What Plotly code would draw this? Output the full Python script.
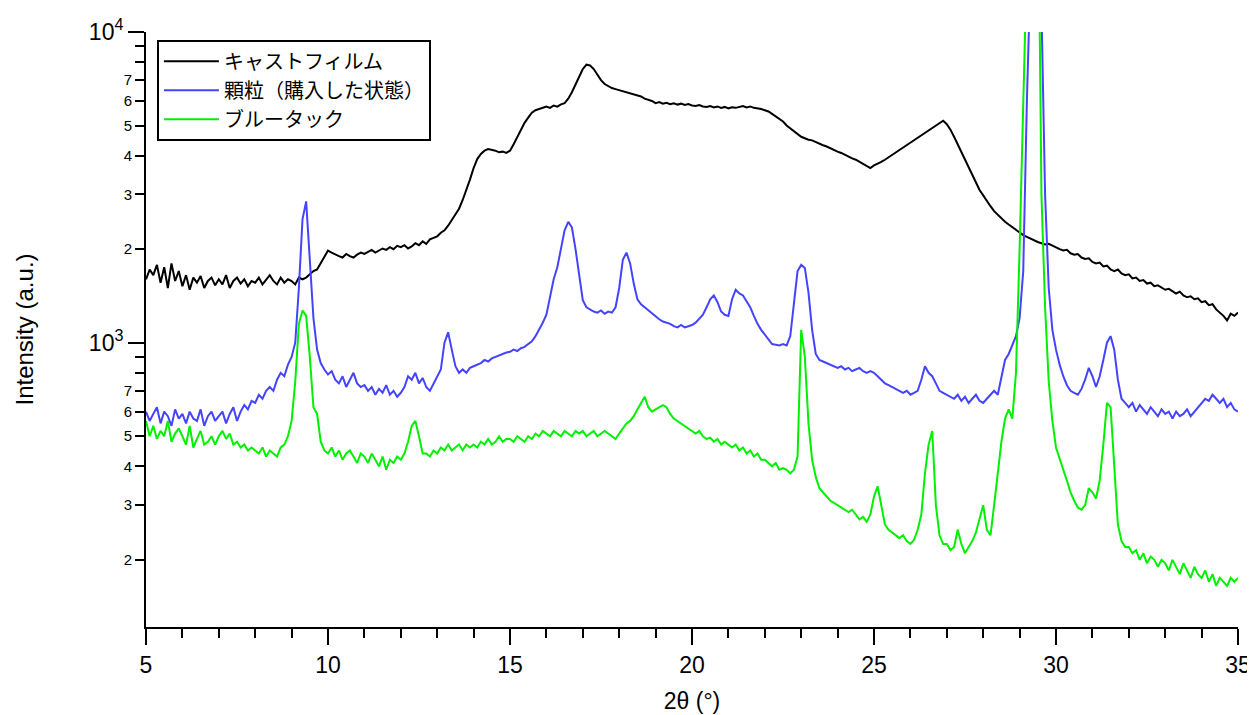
import numpy as np
import plotly.graph_objects as go

# 2θ sampling grid (degrees), 0.1° step
two_theta = np.round(5.0 + 0.1 * np.arange(301), 1)

cast_film = [
    1600, 1720, 1650, 1780, 1560, 1750, 1500, 1800, 1580, 1700,
    1520, 1650, 1480, 1620, 1560, 1640, 1500, 1580, 1620, 1530,
    1600, 1540, 1650, 1500, 1580, 1620, 1550, 1600, 1520, 1580,
    1560, 1620, 1540, 1600, 1650, 1580, 1540, 1620, 1560, 1600,
    1580, 1540, 1620, 1600, 1620, 1660, 1700, 1720, 1800, 1900,
    1980, 1950, 1920, 1900, 1880, 1930, 1900, 1880, 1920, 1950,
    1930, 1960, 1990, 1950, 1980, 2010, 1990, 2030, 2000, 2050,
    2030, 2060, 2010, 2040, 2090, 2060, 2120, 2080, 2150, 2180,
    2200, 2260, 2300, 2380, 2480, 2580, 2700, 2880, 3100, 3350,
    3650, 3900, 4050, 4150, 4200, 4180, 4150, 4100, 4120, 4080,
    4150, 4350, 4600, 4850, 5100, 5300, 5500, 5600, 5650, 5700,
    5750, 5700, 5800, 5750, 5850, 5900, 6100, 6400, 6800, 7200,
    7600, 7850, 7800, 7600, 7300, 7000, 6800, 6700, 6600, 6550,
    6500, 6450, 6400, 6350, 6300, 6250, 6200, 6100, 6050, 6000,
    5900, 5950, 5880, 5920, 5860, 5900, 5840, 5880, 5820, 5860,
    5800, 5780, 5820, 5760, 5740, 5780, 5720, 5760, 5700, 5740,
    5680, 5720, 5700, 5750, 5780, 5720, 5760, 5700, 5680, 5650,
    5600, 5550, 5450, 5350, 5250, 5150, 5000, 4900, 4800, 4700,
    4600, 4550, 4500, 4480, 4420, 4380, 4320, 4280, 4220, 4180,
    4120, 4080, 4020, 3980, 3920, 3880, 3820, 3780, 3700, 3650,
    3720, 3760, 3820, 3880, 3950, 4020, 4100, 4180, 4260, 4340,
    4420, 4500, 4580, 4650, 4750, 4820, 4900, 4980, 5080, 5180,
    5050, 4850, 4600, 4350, 4100, 3850, 3650, 3450, 3250, 3100,
    2980, 2850, 2750, 2650, 2580, 2500, 2450, 2400, 2350, 2300,
    2260, 2220, 2190, 2160, 2130, 2110, 2090, 2070, 2080, 2050,
    2030, 2000, 1980, 1990, 1940, 1920, 1930, 1880, 1860, 1870,
    1820, 1800, 1810, 1760, 1770, 1720, 1700, 1720, 1670, 1650,
    1660, 1610, 1620, 1580, 1590, 1550, 1560, 1520, 1530, 1500,
    1480, 1490, 1460, 1440, 1460, 1420, 1400, 1410, 1380, 1390,
    1350, 1360, 1320, 1330, 1280, 1250, 1220, 1180, 1240, 1220,
    1250,
]

granules = [
    600, 560, 590, 620, 550, 600, 580, 540, 610, 570,
    590, 550, 600, 570, 560, 610, 540, 580, 600, 560,
    580, 600, 550, 590, 620, 560, 600, 630, 610, 650,
    640, 680, 660, 700, 720, 700, 760, 800, 780, 850,
    900, 1000, 1500, 2500, 2850, 1900, 1200, 950, 860, 820,
    790, 810, 760, 740, 780, 720, 760, 800, 740, 720,
    730, 700, 720, 680, 710, 690, 730, 680, 700, 670,
    690, 720, 780, 760, 800, 740, 770, 720, 700, 740,
    780, 820, 1000, 1080, 950, 840, 800, 820, 800, 830,
    840, 850, 860, 880, 870, 890, 900, 910, 920, 930,
    935, 950, 940, 960, 970, 990, 1010, 1050, 1100, 1160,
    1230, 1400, 1600, 1750, 2000, 2300, 2450, 2350, 2000, 1650,
    1370, 1300, 1280, 1260, 1250, 1270, 1240, 1260, 1250, 1300,
    1500, 1850, 1950, 1800, 1550, 1380, 1330, 1300, 1270, 1240,
    1210, 1190, 1170, 1160, 1150, 1130, 1120, 1140, 1120, 1130,
    1140, 1160, 1190, 1230, 1300, 1380, 1420, 1350, 1260, 1230,
    1220, 1380, 1480, 1440, 1420, 1360, 1300, 1220, 1150, 1100,
    1060, 1020, 990, 985, 980, 990, 980, 1050, 1350, 1700,
    1780, 1740, 1450, 1100, 920, 880, 870, 860, 850, 840,
    830, 840, 820, 830, 810, 820, 830, 810, 800, 810,
    800, 780, 760, 740, 730, 720, 710, 700, 690, 700,
    680, 690, 700, 760, 840, 800, 780, 740, 700, 690,
    680, 670, 660, 680, 650, 670, 640, 660, 680, 650,
    640, 660, 680, 700, 680, 780, 880, 920, 980, 1050,
    1200, 1700, 6000, 20000, 40000, 35000, 12000, 3000, 1500, 1100,
    950, 850, 780, 730, 700, 690, 680, 710, 760, 830,
    780, 720, 780, 880, 1000, 1050, 950, 760, 660, 640,
    620, 640, 600, 630, 610, 590, 620, 600, 580, 610,
    590, 600, 570, 600, 580, 590, 610, 580, 600, 620,
    640, 660, 650, 680, 660, 640, 660, 620, 640, 610,
    600,
]

blu_tack = [
    560, 500, 540, 490, 520, 500, 560, 480, 510, 530,
    500, 470, 540, 460, 490, 520, 470, 480, 500, 470,
    500, 520, 490, 510, 470, 480, 460, 470, 450, 460,
    450, 440, 460, 430, 450, 440, 430, 460, 470, 500,
    560, 750, 1150, 1270, 1220, 900, 620, 590, 480, 450,
    440, 460, 430, 450, 420, 440, 450, 430, 410, 440,
    430, 410, 440, 420, 400, 430, 390, 420, 410, 430,
    420, 440, 480, 540, 560, 500, 440, 440, 430, 450,
    440, 460, 450, 470, 450, 460, 470, 450, 470, 460,
    470, 460, 480, 470, 490, 470, 480, 500, 480, 490,
    490, 480, 500, 490, 480, 500, 490, 510, 500, 520,
    510, 500, 520, 510, 500, 520, 510, 500, 520, 510,
    520, 500, 510, 520, 500, 510, 520, 510, 500, 490,
    510, 530, 550, 560, 580, 610, 640, 670, 620, 600,
    610, 620, 630, 620, 590, 570, 560, 550, 540, 530,
    520, 510, 520, 500, 490, 495, 480, 490, 470, 480,
    470, 460, 470, 450, 460, 440, 450, 430, 440, 420,
    420, 410, 400, 410, 390, 395, 390, 380, 390, 430,
    1100, 900, 550, 420, 370, 340, 330, 320, 310, 305,
    300, 295, 290, 285, 290, 280, 270, 275, 265, 280,
    320, 345, 300, 260, 250, 245, 240, 235, 240, 230,
    225, 232, 250, 280, 380, 470, 520, 300, 240, 225,
    225, 215, 220, 250, 225, 210, 220, 230, 245, 270,
    300, 250, 240, 300, 380, 480, 570, 610, 570, 800,
    2000, 8000, 25000, 50000, 60000, 40000, 3000, 1300, 750, 560,
    460, 420, 390, 360, 330, 310, 295, 290, 300, 340,
    330, 315, 360, 470, 640, 620, 400, 260, 230, 220,
    220, 210, 215, 200, 210, 195, 205, 200, 190, 200,
    195, 185, 200, 190, 180, 195, 185, 175, 190, 180,
    175, 185, 170, 180, 165, 175, 170, 165, 175, 170,
    175,
]

series_names = ["キャストフィルム", "顆粒（購入した状態）", "ブルータック"]
series_colors = ["#000000", "#4444ff", "#00f000"]

decade_vals = [1000, 10000]
decade_text = ["10<sup>3</sup>", "10<sup>4</sup>"]
digit_vals = [200, 300, 400, 500, 600, 700, 2000, 3000, 4000, 5000, 6000, 7000]
digit_text = ["2", "3", "4", "5", "6", "7", "2", "3", "4", "5", "6", "7"]
unlabeled_vals = [800, 900, 8000, 9000]

y_range = [2.085, 4.0]

fig = go.Figure()
for name, col, vals in zip(series_names, series_colors, [cast_film, granules, blu_tack]):
    fig.add_trace(go.Scatter(x=two_theta, y=vals, mode="lines", name=name,
                             line=dict(color=col, width=2), cliponaxis=True))

# helper trace for the overlaid minor-label axis
fig.add_trace(go.Scatter(x=[None], y=[None], yaxis="y2", showlegend=False,
                         hoverinfo="skip", mode="lines"))

font_main = "Liberation Sans, Arial, sans-serif"

# the page body adds an 8px offset, so margins are compensated
fig.update_layout(
    width=1255, height=715,
    margin=dict(l=138, r=25, t=24, b=96, pad=0),
    paper_bgcolor="white", plot_bgcolor="white",
    font=dict(family=font_main, color="black", size=23),
    showlegend=True,
    legend=dict(x=0.01, y=0.987, xanchor="left", yanchor="top",
                bgcolor="white", bordercolor="black", borderwidth=2,
                font=dict(family="Noto Sans CJK JP, sans-serif", size=20, color="black"),
                itemwidth=55, tracegroupgap=0),
    xaxis=dict(range=[5, 35], showline=True, linecolor="black", linewidth=2,
               ticks="outside", ticklen=16, tickwidth=2, tickcolor="black",
               dtick=5, tick0=5, showgrid=False, zeroline=False,
               automargin=False, tickfont=dict(size=23),
               minor=dict(ticks="outside", ticklen=9, tickwidth=2, dtick=1,
                          tickcolor="black", showgrid=False),
               title=dict(text="2θ (°)", font=dict(size=23), standoff=16)),
    yaxis=dict(type="log", range=y_range, showline=True, linecolor="black",
               linewidth=2, ticks="outside", ticklen=16, tickwidth=2,
               tickcolor="black", tickmode="array", tickvals=decade_vals,
               ticktext=decade_text, showgrid=False, zeroline=False,
               automargin=False, tickfont=dict(size=23),
               title=dict(text="Intensity (a.u.)", font=dict(size=24), standoff=48)),
    yaxis2=dict(type="log", range=y_range, overlaying="y", side="left",
                anchor="x", showline=False, ticks="outside", ticklen=10,
                tickwidth=2, tickcolor="black", tickmode="array",
                tickvals=digit_vals, ticktext=digit_text, showgrid=False,
                zeroline=False, automargin=False, tickfont=dict(size=15),
                minor=dict(ticks="outside", ticklen=10, tickwidth=2,
                           tickmode="array", tickvals=unlabeled_vals,
                           tickcolor="black", showgrid=False)),
)

fig.write_html("out.html")
